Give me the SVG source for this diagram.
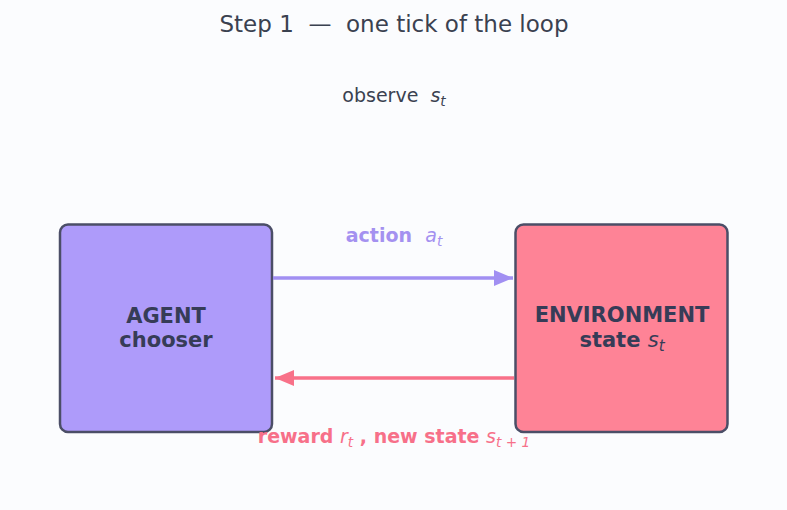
<svg xmlns="http://www.w3.org/2000/svg" width="787" height="510" viewBox="0 0 787 510">
<style>
text{font-family:"DejaVu Sans","Liberation Sans",sans-serif;text-anchor:middle}
.title{font-size:23px;fill:#3a4150}
.obs{font-size:19px;fill:#3a4150}
.box{stroke:#4b4e67;stroke-width:2.5}
.lbl{font-size:21px;font-weight:bold;fill:#363c57}
.m{font-style:italic;font-weight:normal}
.sub{font-size:72%}
</style>
<defs>
<marker id="ha" markerWidth="19" markerHeight="16" refX="19" refY="8" orient="auto" markerUnits="userSpaceOnUse" viewBox="0 0 19 16">
<path d="M0,0 L19,8 L0,16 Z" fill="#a18ff2"/>
</marker>
<marker id="hr" markerWidth="19" markerHeight="16" refX="19" refY="8" orient="auto" markerUnits="userSpaceOnUse" viewBox="0 0 19 16">
<path d="M0,0 L19,8 L0,16 Z" fill="#f87189"/>
</marker>
</defs>
<rect width="787" height="510" fill="#fbfcfe"/>
<text class="title" x="394" y="32" xml:space="preserve">Step 1  —  one tick of the loop</text>
<text class="obs" x="394" y="102" xml:space="preserve">observe  <tspan class="m">s<tspan class="sub" dy="4">t</tspan></tspan></text>
<g id="agent">
<rect class="box" x="60" y="224.5" width="212" height="207.5" rx="8" fill="#ae9bfa"/>
<text class="lbl" x="166" y="323">AGENT</text>
<text class="lbl" x="166" y="347">chooser</text>
</g>
<g id="environment">
<rect class="box" x="515.5" y="224.5" width="212" height="207.5" rx="8" fill="#fe8396"/>
<text class="lbl" x="622" y="322">ENVIRONMENT</text>
<text class="lbl" x="622" y="347">state <tspan class="m">s<tspan class="sub" dy="4">t</tspan></tspan></text>
</g>
<g id="connectors">
<line x1="273" y1="278" x2="513" y2="278" stroke="#a18ff2" stroke-width="3.5" marker-end="url(#ha)"/>
<text x="394" y="242" style="font-size:19px;font-weight:bold;fill:#a491f0" xml:space="preserve">action  <tspan class="m">a<tspan class="sub" dy="4">t</tspan></tspan></text>
<line x1="514" y1="378" x2="275" y2="378" stroke="#f87189" stroke-width="3.5" marker-end="url(#hr)"/>
<text x="394" y="443" style="font-size:19px;font-weight:bold;fill:#f77089">reward <tspan class="m">r<tspan class="sub" dy="4">t</tspan></tspan><tspan dy="-4"> , new state </tspan><tspan class="m">s<tspan class="sub" dy="4">t + 1</tspan></tspan></text>
</g>
</svg>
